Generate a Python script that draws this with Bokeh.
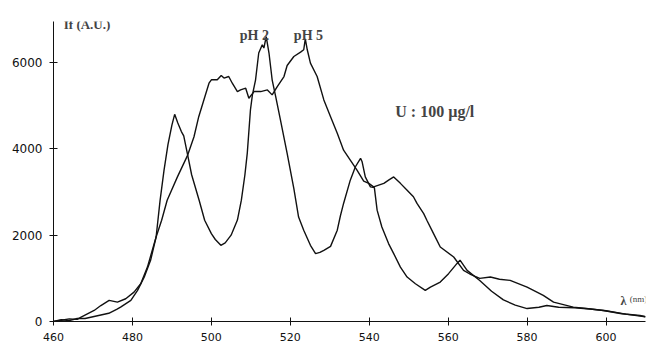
from bokeh.plotting import figure
from bokeh.models import Label, Range1d, FixedTicker
from bokeh.embed import file_html
from bokeh.resources import INLINE

# pH 2 spectrum (wavelength nm, intensity A.U.)
ph2_nm = [460, 462, 464, 466, 468, 470, 472, 474, 476, 477, 479.6, 481.3, 483, 484.6,
          486, 487, 488, 489, 490, 490.7, 491.5, 492.4, 493, 494, 495, 496.9, 498.3,
          500, 501, 502.4, 503.5, 505, 506.6, 507.6, 508.5, 509.1, 509.9, 510.4, 511.2,
          512, 512.9, 513.3, 513.9, 514.6, 515.4, 516.3, 517.5, 519.2, 520.9, 522.1,
          523.4, 525.1, 526.4, 527.5, 528.5, 530.2, 531.9, 532.7, 533.5, 535.2, 536.5,
          537.8, 538.2, 539, 540.3, 541.3, 542, 543.2, 544.9, 546.2, 547.9, 549.6,
          551.7, 554.2, 555.5, 558, 560.1, 562.2, 563, 564.8, 568, 571, 574, 577, 580,
          583, 585, 588, 592, 596, 600, 605, 610]
ph2_val = [0, 40, 20, 70, 70, 110, 150, 190, 280, 332, 488, 720, 1030, 1417,
           1958, 2800, 3500, 4100, 4550, 4800, 4600, 4400, 4300, 3855, 3400, 2810, 2345,
           2035, 1900, 1765, 1820, 2000, 2350, 2810, 3400, 3900, 4900, 5250, 5600,
           6220, 6410, 6335, 6600, 6220, 5600, 5210, 4670, 3895, 3080, 2420,
           2115, 1765, 1573, 1600, 1650, 1740, 2115, 2450, 2735, 3275, 3585,
           3780, 3700, 3350, 3120, 3100, 2580, 2190, 1805, 1573, 1260, 1030,
           875, 720, 797, 913, 1108, 1340, 1420, 1185, 950, 700, 500, 380, 300,
           330, 370, 330, 320, 290, 250, 170, 110]

# pH 5 spectrum
ph5_nm = [460, 462, 464, 466, 467, 470.3, 472, 474.1, 476.2, 478.3, 480.4, 482.1, 483.8,
          486, 487.4, 488.8, 491.4, 494, 495.6, 496.8, 498.1, 499.4, 500, 501.5, 502.5,
          503.2, 504.4, 505.3, 506.6, 507.4, 508.7, 509.5, 510.8, 512.5, 514.2, 515.4,
          516.7, 518.4, 519.2, 520.9, 522.6, 523.4, 523.8, 524.3, 525.1, 526.8, 528.5,
          530.2, 531.9, 533.5, 535.2, 536.9, 538.6, 539.9, 541.1, 543.7, 545, 546.2,
          547.9, 549.6, 551.2, 552.1, 553.8, 554.6, 556.3, 558, 561.4, 563.9, 565.5,
          568, 570.7, 573, 575.7, 580, 584.1, 586.7, 591.7, 595, 599.3, 604, 608.6, 610]
ph5_val = [0, 30, 60, 50, 100, 255, 370, 488, 450, 527, 680, 875, 1260,
           1958, 2346, 2810, 3350, 3855, 4280, 4745, 5133, 5520, 5600, 5600, 5700,
           5640, 5675, 5520, 5327, 5365, 5405, 5172, 5327, 5327, 5365, 5250,
           5443, 5675, 5930, 6140, 6240, 6295, 6550, 6295, 5985, 5675, 5133,
           4745, 4360, 3970, 3740, 3507, 3250, 3200, 3120, 3200, 3280, 3350,
           3200, 3040, 2890, 2735, 2500, 2346, 2037, 1725, 1494, 1185, 1100,
           1000, 1030, 980, 952, 797, 604, 448, 332, 300, 255, 180, 140, 110]

x_ticks = [460, 480, 500, 520, 540, 560, 580, 600]
y_ticks = [0, 2000, 4000, 6000]

p = figure(width=655, height=345, output_backend="svg", toolbar_location=None,
           x_range=Range1d(460, 610), y_range=Range1d(0, 6950),
           min_border_left=53, min_border_right=10, min_border_top=21, min_border_bottom=24)
p.outline_line_color = None
p.xgrid.visible = False
p.ygrid.visible = False
p.background_fill_color = "white"
p.border_fill_color = "white"

p.line(ph2_nm, ph2_val, line_color="#111111", line_width=1.4)
p.line(ph5_nm, ph5_val, line_color="#111111", line_width=1.4)

for ax, ticks, fs in ((p.xaxis, x_ticks, "11px"), (p.yaxis, y_ticks, "12px")):
    ax.ticker = FixedTicker(ticks=ticks)
    ax.minor_tick_line_color = None
    ax.major_tick_in = 4
    ax.major_tick_out = 4
    ax.axis_line_color = "#111111"
    ax.major_tick_line_color = "#111111"
    ax.major_label_text_font = "DejaVu Sans"
    ax.major_label_text_font_size = fs
    ax.major_label_text_color = "#111111"
    ax.major_label_standoff = 7

serif = "Liberation Serif"
p.add_layout(Label(x=462.6, y=6880, text="If (A.U.)", text_font=serif, text_font_size="13px",
                   text_font_style="bold", text_baseline="middle", text_align="left"))
p.add_layout(Label(x=510.9, y=6630, text="pH 2", text_font=serif, text_font_size="14px",
                   text_font_style="bold", text_baseline="middle", text_align="center"))
p.add_layout(Label(x=524.6, y=6630, text="pH 5", text_font=serif, text_font_size="14px",
                   text_font_style="bold", text_baseline="middle", text_align="center"))
p.add_layout(Label(x=546.6, y=4866, text="U : 100 µg/l", text_font=serif, text_font_size="16px",
                   text_font_style="bold", text_baseline="middle", text_align="left"))
p.add_layout(Label(x=604.4, y=470, text="λ", text_font=serif, text_font_size="12px",
                   text_font_style="bold", text_baseline="middle", text_align="center"))
p.add_layout(Label(x=606.0, y=530, text="(nm)", text_font=serif, text_font_size="9px",
                   text_baseline="middle", text_align="left"))

open("out.html", "w").write(file_html(p, INLINE))
